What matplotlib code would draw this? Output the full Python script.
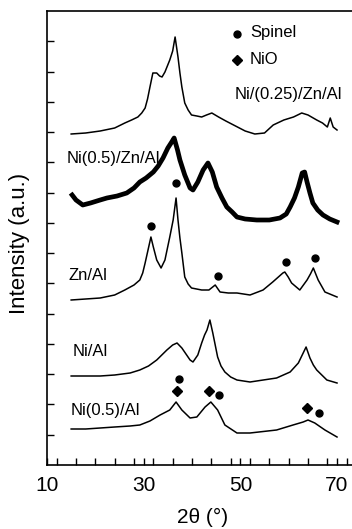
import numpy as np
import matplotlib
matplotlib.use('Agg')
import matplotlib.pyplot as plt
from matplotlib.ticker import MultipleLocator

plt.rcParams['font.family'] = ['Liberation Sans', 'DejaVu Sans']

# XRD patterns, values (2theta, intensity a.u.)
x_nizn025 = [15, 18, 21, 24, 26.1, 27.5, 28.8, 29.6, 30.3, 30.8, 31.3, 31.9, 32.7, 33.3, 33.8, 34.4,
             35.4, 36.0, 36.5, 37.1, 37.5, 37.9, 38.5, 39.2, 39.9, 41, 42, 43, 44.1, 45.5, 47, 49,
             51, 53, 55, 56.8, 59, 61, 62.7, 64, 65.8, 67, 68, 68.6, 69.2, 70]
y_nizn025 = [331, 332, 334, 337, 342, 345, 348, 352, 357, 366, 378, 392, 392, 389, 388, 393,
             405, 414, 428, 408, 392, 378, 362, 355, 350, 349, 348, 350, 352, 348, 344, 339,
             334, 331, 332, 340, 345, 348, 352, 350, 345, 342, 338, 347, 338, 335]

x_nizn05 = [15.2, 16, 17.4, 19, 21, 22.4, 24.5, 26.5, 28, 29.2, 30.5, 32, 33, 34, 35, 35.8, 36.3,
            37, 37.5, 38.5, 39.6, 40.2, 41.2, 42.3, 43.3, 44.2, 45.1, 46.2, 47.2, 48.3, 49.3, 51,
            53.4, 56, 58.2, 59.5, 60.3, 61.2, 62, 62.8, 63.3, 63.8, 64.4, 65, 66, 67.1, 68.5, 70]
y_nizn05 = [270, 265, 260, 262, 265, 267, 269, 272, 277, 283, 287, 293, 299, 307, 317, 323, 327,
            315, 305, 290, 277, 275, 283, 295, 302, 293, 278, 267, 258, 253, 248, 246,
            245, 245, 247, 251, 258, 267, 278, 292, 293, 283, 272, 262, 255, 250, 246, 243]

x_znal = [15, 18, 21, 24, 26.1, 28, 29.2, 29.8, 30.3, 30.9, 31.5, 32, 32.7, 33.6, 34.4, 35.4,
          36.1, 36.7, 37.1, 37.5, 37.9, 38.5, 39.2, 39.9, 42, 43.5, 44.8, 45.8, 47.5, 49.3, 52,
          54.7, 56.7, 58.8, 59.2, 59.9, 60.6, 62.3, 63.8, 64.5, 65.1, 66.1, 67.5, 70]
y_znal = [165, 166, 167, 170, 175, 180, 185, 192, 202, 215, 228, 218, 205, 197, 205, 228,
          245, 267, 245, 227, 212, 188, 181, 177, 175, 175, 180, 173, 172, 172, 170,
          175, 183, 192, 193, 188, 182, 175, 185, 191, 197, 185, 173, 168]

x_nial = [15, 18, 21, 24, 27.2, 29.2, 31, 32.7, 34.8, 36.0, 36.9, 37.9, 39.6, 40.2, 41.2, 42,
          42.6, 43.1, 43.7, 44.3, 44.8, 45.3, 46.0, 46.8, 48, 49.3, 52, 57.5, 60.3, 62, 63,
          63.6, 64.4, 65.1, 65.8, 67.9, 70]
y_nial = [89, 89, 89, 90, 92, 95, 99, 105, 115, 120, 122, 117, 105, 103, 110, 122,
          130, 135, 145, 132, 120, 108, 99, 93, 88, 85, 83, 87, 93, 102, 112,
          118, 107, 100, 95, 85, 82]

x_ni05al = [15, 18, 21, 24, 27.2, 29.2, 31.3, 33.4, 35.4, 36.7, 37.9, 39.6, 41, 42.7, 43.9, 45.3,
            46.8, 49.3, 52, 57.5, 60.9, 63, 64, 65.4, 67.5, 70]
y_ni05al = [36, 36, 37, 38, 39, 40, 44, 50, 55, 63, 55, 47, 48, 58, 63, 55,
            40, 32, 32, 35, 40, 43, 45, 42, 35, 28]

spinel_x = [31.5, 36.7, 45.3, 59.4, 65.5, 37.3, 45.6, 66.3]
spinel_y = [239, 282, 189, 203, 207, 86, 70, 52]
nio_x = [36.9, 43.5, 63.8]
nio_y = [74, 74, 57]

labels = ['Ni/(0.25)/Zn/Al', 'Ni(0.5)/Zn/Al', 'Zn/Al', 'Ni/Al', 'Ni(0.5)/Al']
label_x = [48.9, 14.1, 14.55, 15.4, 14.9]
label_y = [370, 306, 189, 114, 55]

W, H = 352, 529
fig = plt.figure(figsize=(W / 100, H / 100), dpi=100)
ax = fig.add_axes([47 / W, (H - 465) / H, (W - 47) / W, 454 / H])

ax.plot(x_nizn025, y_nizn025, color='black', lw=1.1)
ax.plot(x_nizn05, y_nizn05, color='black', lw=3.4)
ax.plot(x_znal, y_znal, color='black', lw=1.1)
ax.plot(x_nial, y_nial, color='black', lw=1.1)
ax.plot(x_ni05al, y_ni05al, color='black', lw=1.1)

ax.plot(spinel_x, spinel_y, 'o', color='black', ms=5, ls='none')
ax.plot(nio_x, nio_y, 'D', color='black', ms=5.5, ls='none')

for lab, lx, ly in zip(labels, label_x, label_y):
    ax.text(lx, ly, lab, fontsize=12, va='center', ha='left')

# legend drawn by hand, as in the original
ax.plot([49.3], [431], 'o', color='black', ms=5)
ax.text(52.0, 432, 'Spinel', fontsize=12, va='center')
ax.plot([49.3], [405], 'D', color='black', ms=5.5)
ax.text(52.0, 405, 'NiO', fontsize=12, va='center')

ax.set_xlim(10, 73.1)
ax.set_ylim(0, 454)
ax.set_xticks([10, 30, 50, 70])
ax.xaxis.set_minor_locator(MultipleLocator(4))
ax.set_yticks(np.linspace(0, 454, 16)[1:-1])
ax.set_yticklabels([])
ax.tick_params(axis='both', which='both', direction='in', length=5, width=1)
ax.tick_params(axis='x', labelsize=15, pad=8)
ax.spines['right'].set_visible(False)
for s in ['top', 'left', 'bottom']:
    ax.spines[s].set_linewidth(1.2)

fig.text(20 / W, 1 - 243 / H, 'Intensity (a.u.)', rotation=90, fontsize=16,
         ha='center', va='center')
fig.text(203 / W, 1 - 517 / H, '2θ (°)', fontsize=15, ha='center', va='center')

fig.savefig('out.png', dpi=100)
